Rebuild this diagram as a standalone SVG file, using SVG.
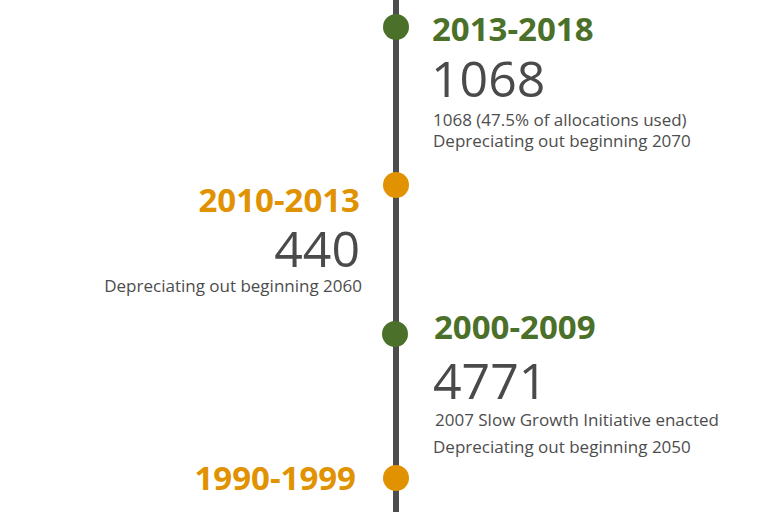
<svg xmlns="http://www.w3.org/2000/svg" width="768" height="512" viewBox="0 0 768 512">
<style>
.yr{font-family:"Open Sans","Liberation Sans",sans-serif;font-weight:700;font-size:33px}
.g{fill:#4b7029}
.o{fill:#e09200}
.big{font-family:"Open Sans","Liberation Sans",sans-serif;font-weight:400;font-size:50px;fill:#4a4a4a}
.sm{font-family:"Open Sans","Liberation Sans",sans-serif;font-weight:400;font-size:17px;fill:#4d4d4d}
.e{text-anchor:end}
</style>
<rect width="768" height="512" fill="#ffffff"/>
<g id="connectors">
<line x1="396" y1="0" x2="396" y2="512" stroke="#4d4d4d" stroke-width="6"/>
</g>
<g id="node-2013-2018">
<circle cx="396" cy="27" r="13" class="g"/>
<text x="432" y="41" class="yr g">2013-2018</text>
<text x="431" y="97" class="big">1068</text>
<text x="433" y="126" class="sm">1068 (47.5% of allocations used)</text>
<text x="433" y="147" class="sm">Depreciating out beginning 2070</text>
</g>
<g id="node-2010-2013">
<circle cx="396" cy="185" r="13" class="o"/>
<text x="360" y="212" class="yr o e">2010-2013</text>
<text x="360" y="267" class="big e">440</text>
<text x="362" y="292" class="sm e">Depreciating out beginning 2060</text>
</g>
<g id="node-2000-2009">
<circle cx="395" cy="334" r="13" class="g"/>
<text x="434" y="339" class="yr g">2000-2009</text>
<text x="433" y="399" class="big">4771</text>
<text x="435" y="426" class="sm">2007 Slow Growth Initiative enacted</text>
<text x="433" y="453" class="sm">Depreciating out beginning 2050</text>
</g>
<g id="node-1990-1999">
<circle cx="396" cy="478" r="13" class="o"/>
<text x="356" y="490" class="yr o e">1990-1999</text>
</g>
</svg>
